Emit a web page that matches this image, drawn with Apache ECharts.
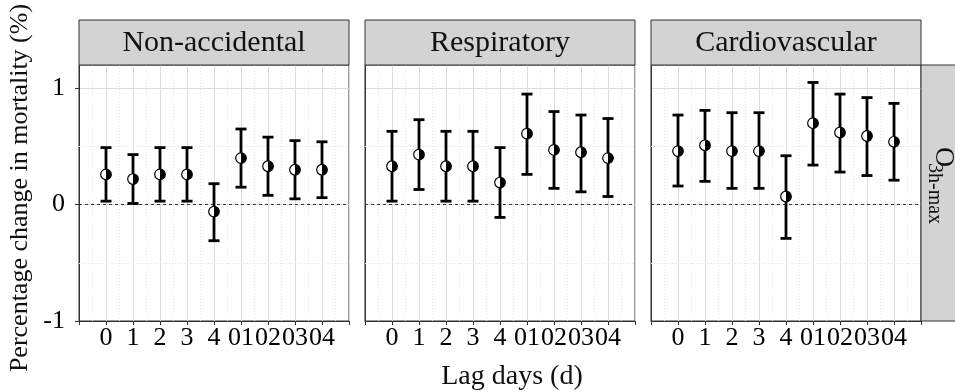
<!DOCTYPE html>
<html>
<head>
<meta charset="utf-8">
<script src="https://cdn.jsdelivr.net/npm/echarts@6/dist/echarts.min.js"></script>
<style>
html,body{margin:0;padding:0;background:#fff;}
#chart{width:955px;height:392px;}
</style>
</head>
<body>
<div id="chart"></div>
<script>
// ---- data ----
const categories = ['0', '1', '2', '3', '4', '01', '02', '03', '04'];
const panels = ['Non-accidental', 'Respiratory', 'Cardiovascular'];
const yTicks = [-1, 0, 1];

const nonAccEst  = [0.26, 0.22, 0.26, 0.26, -0.06, 0.40, 0.33, 0.30, 0.30];
const nonAccLow  = [0.03, 0.01, 0.03, 0.03, -0.31, 0.15, 0.08, 0.05, 0.06];
const nonAccHigh = [0.49, 0.43, 0.49, 0.49, 0.18, 0.65, 0.58, 0.55, 0.54];

const respEst  = [0.33, 0.43, 0.33, 0.33, 0.19, 0.61, 0.47, 0.45, 0.40];
const respLow  = [0.03, 0.13, 0.03, 0.03, -0.11, 0.26, 0.14, 0.11, 0.07];
const respHigh = [0.63, 0.73, 0.63, 0.63, 0.49, 0.95, 0.80, 0.77, 0.74];

const cardEst  = [0.46, 0.51, 0.46, 0.46, 0.07, 0.70, 0.62, 0.59, 0.54];
const cardLow  = [0.16, 0.20, 0.14, 0.14, -0.29, 0.34, 0.28, 0.25, 0.21];
const cardHigh = [0.77, 0.81, 0.79, 0.79, 0.42, 1.05, 0.95, 0.92, 0.87];

const panelData = [
  [nonAccEst, nonAccLow, nonAccHigh],
  [respEst, respLow, respHigh],
  [cardEst, cardLow, cardHigh]
];

// ---- layout ----
const FONT = "'Liberation Serif', 'Times New Roman', serif";
const gridLefts = [79, 365, 651];
const gridW = 270, gridTop = 65, gridH = 256;

const chart = echarts.init(document.getElementById('chart'), null, {renderer: 'canvas'});

const grids = [], xAxes = [], yAxes = [], series = [], graphics = [];

gridLefts.forEach((left, i) => {
  grids.push({left: left, top: gridTop, width: gridW, height: gridH,
    show: true, borderColor: '#333', borderWidth: 1, containLabel: false});
  xAxes.push({
    type: 'value', gridIndex: i, min: 0, max: categories.length + 1, interval: 1,
    axisLine: {show: true, onZero: false, lineStyle: {color: '#333', width: 1}},
    axisTick: {show: true, length: 4, lineStyle: {color: '#333'}},
    axisLabel: {
      color: '#000', fontFamily: FONT, fontSize: 26, margin: 4,
      formatter: v => (v >= 1 && v <= categories.length) ? categories[v - 1] : ''
    },
    splitLine: {show: true, lineStyle: {color: '#dcdcdc', width: 1}},
    minorTick: {show: false, splitNumber: 2},
    minorSplitLine: {show: true, lineStyle: {color: '#e4e4e4', width: 1, type: [1, 2]}}
  });
  yAxes.push({
    type: 'value', gridIndex: i, min: yTicks[0], max: 1.2, interval: 1,
    axisLine: {show: true, onZero: false, lineStyle: {color: '#333', width: 1}},
    axisTick: {show: i === 0, length: 4, customValues: yTicks, lineStyle: {color: '#333'}},
    axisLabel: {
      show: i === 0, color: '#000', fontFamily: FONT, fontSize: 26, margin: 14,
      customValues: yTicks,
      formatter: v => yTicks.indexOf(v) >= 0 ? String(v) : ''
    },
    splitLine: {show: true, lineStyle: {color: '#dcdcdc', width: 1}}
  });

  const [est, low, high] = panelData[i];
  const data = est.map((e, k) => [k + 1, e, low[k], high[k]]);
  series.push({
    type: 'custom', xAxisIndex: i, yAxisIndex: i, z: 10,
    data: data,
    renderItem: function (params, api) {
      const p = api.coord([api.value(0), api.value(1)]);
      const lo = api.coord([api.value(0), api.value(2)]);
      const hi = api.coord([api.value(0), api.value(3)]);
      const cap = 5.5, r = 5.3;
      const ls = {stroke: '#000', lineWidth: 2.8};
      return {
        type: 'group',
        children: [
          {type: 'line', shape: {x1: p[0], y1: lo[1], x2: p[0], y2: hi[1]}, style: ls},
          {type: 'line', shape: {x1: p[0] - cap, y1: lo[1], x2: p[0] + cap, y2: lo[1]}, style: ls},
          {type: 'line', shape: {x1: p[0] - cap, y1: hi[1], x2: p[0] + cap, y2: hi[1]}, style: ls},
          {type: 'circle', shape: {cx: p[0], cy: p[1], r: r}, style: {fill: '#fff', stroke: '#000', lineWidth: 1.2}},
          {type: 'sector', shape: {cx: p[0], cy: p[1], r0: 0, r: r, startAngle: -Math.PI / 2, endAngle: Math.PI / 2, clockwise: true},
            style: {fill: '#000'}}
        ]
      };
    },
    markLine: {
      silent: true, symbol: 'none', label: {show: false},
      data: [
        {yAxis: 0.5, lineStyle: {color: '#e0e0e0', width: 1, type: [1, 2]}},
        {yAxis: -0.5, lineStyle: {color: '#e0e0e0', width: 1, type: [1, 2]}},
        {yAxis: 0, lineStyle: {color: '#333', width: 1, type: [3, 3]}}
      ]
    }
  });

  // strip header
  graphics.push({type: 'rect', shape: {x: left, y: 20, width: gridW, height: gridTop - 20},
    style: {fill: '#d3d3d3', stroke: '#333', lineWidth: 1}, z: 1});
  graphics.push({type: 'text', x: left + gridW / 2, y: 43, z: 2,
    style: {text: panels[i], font: '30px ' + FONT, fill: '#111', align: 'center', verticalAlign: 'middle'}});
});

// right strip
const rightX = gridLefts[2] + gridW;
graphics.push({type: 'rect', shape: {x: rightX, y: gridTop, width: 40, height: gridH},
  style: {fill: '#d3d3d3', stroke: '#333', lineWidth: 1}, z: 1});
graphics.push({type: 'text', x: 943, y: 157, rotation: -Math.PI / 2, z: 2,
  style: {text: 'O', font: '28px ' + FONT, fill: '#111', align: 'center', verticalAlign: 'middle'}});
graphics.push({type: 'text', x: 934, y: 163, rotation: -Math.PI / 2, z: 2,
  style: {text: '3h-max', font: '20px ' + FONT, fill: '#111', align: 'left', verticalAlign: 'middle'}});

// axis titles
graphics.push({type: 'text', x: 20, y: 188, rotation: Math.PI / 2, z: 2,
  style: {text: 'Percentage change in mortality (%)', font: '26px ' + FONT, fill: '#111', align: 'center', verticalAlign: 'middle'}});
graphics.push({type: 'text', x: 512, y: 377, z: 2,
  style: {text: 'Lag days (d)', font: '28px ' + FONT, fill: '#111', align: 'center', verticalAlign: 'middle'}});

chart.setOption({
  animation: false,
  backgroundColor: '#fff',
  grid: grids,
  xAxis: xAxes,
  yAxis: yAxes,
  series: series,
  graphic: graphics
});
</script>
</body>
</html>
